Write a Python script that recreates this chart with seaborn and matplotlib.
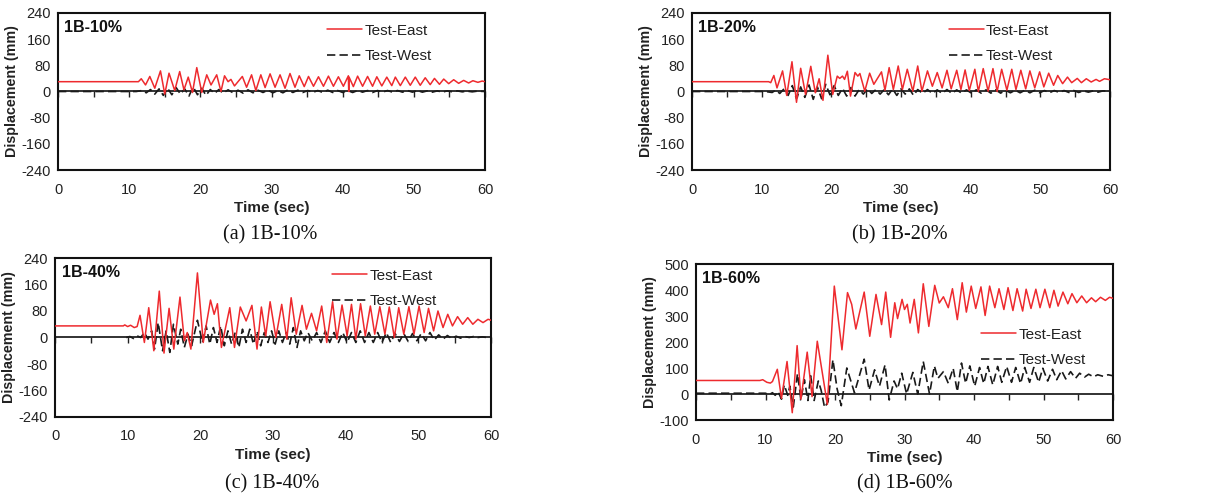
import numpy as np
import matplotlib
matplotlib.use("Agg")
import matplotlib.pyplot as plt
from matplotlib.ticker import MultipleLocator
import seaborn as sns

sns.set_style("white")
SANS = ["Liberation Sans Narrow", "Liberation Sans", "DejaVu Sans"]
plt.rcParams["font.family"] = SANS
plt.rcParams["axes.unicode_minus"] = False

# ---------------- 1B-10% ----------------
a_east_t = [0, 11.3, 11.7, 12.3, 12.9, 13.6, 14.4, 15.0, 15.6, 16.4,
            17.1, 17.7, 18.3, 18.9, 19.5, 20.2, 20.9, 21.5, 22.3, 22.9,
            23.4, 23.9, 24.3, 24.8, 25.9, 26.5, 27.2, 27.8, 28.5, 29.1,
            29.8, 30.5, 31.2, 31.9, 32.6, 33.3, 33.9, 34.6, 35.2, 35.9,
            36.6, 37.3, 38.0, 38.7, 39.4, 40.1, 40.8, 40.85, 40.9, 41.5,
            42.1, 42.8, 43.5, 44.2, 44.8, 45.5, 46.2, 46.9, 47.4, 48.1,
            48.8, 49.5, 50.2, 50.9, 51.6, 52.3, 52.9, 53.6, 54.2, 54.9,
            55.6, 56.3, 57.0, 57.7, 58.3, 59.0, 59.6, 60]
a_east = [30, 30, 39, 20, 46, 10, 63, -8, 56, 3,
          61, 5, 44, -3, 73, -3, 51, 20, 51, 0,
          48, 30, 37, 17, 46, 13, 51, 3, 51, 12,
          54, 13, 51, 10, 55, 13, 48, 15, 46, 16,
          45, 16, 47, 16, 45, 16, 48, 0, 44, 15,
          47, 16, 46, 16, 45, 17, 44, 18, 44, 18,
          44, 19, 44, 19, 42, 21, 40, 22, 38, 24,
          36, 25, 34, 26, 33, 28, 32, 30]
a_west_t = [0, 11.0, 11.8, 12.4, 13.0, 13.6, 14.2, 14.8, 15.4, 16.0,
            16.6, 17.2, 17.8, 18.4, 19.0, 19.6, 20.2, 20.8, 21.4, 22.0,
            22.6, 23.2, 23.9, 24.6, 25.3, 26.0, 26.7, 27.4, 28.1, 28.8,
            29.5, 30.2, 30.9, 31.6, 32.3, 33.0, 33.7, 34.4, 35.1, 35.8,
            36.5, 37.2, 37.9, 38.6, 39.3, 40.0, 40.7, 41.4, 42.1, 42.8,
            43.5, 44.2, 44.9, 45.6, 46.3, 47.0, 47.7, 48.4, 49.1, 49.8,
            50.5, 51.2, 51.9, 52.6, 53.3, 54.0, 54.7, 55.4, 56.1, 56.8,
            57.5, 58.2, 58.9, 60]
a_west = [0, 0, 3, -4, 6, -8, 8, -12, 10, -10,
          12, -8, 8, -14, 14, -10, 10, -12, 6, -6,
          6, -5, 5, -4, 4, -5, 5, -4, 4, -3,
          4, -4, 3, -4, 5, -3, 4, -3, 3, -3,
          3, -3, 4, -3, 3, -3, 3, -3, 3, -2,
          3, -3, 3, -2, 3, -2, 3, -2, 3, -2,
          3, -2, 2, -2, 2, -2, 2, -1, 2, -1,
          1, -1, 1, 0]

# ---------------- 1B-20% ----------------
b_east_t = [0, 11.0, 11.3, 11.75, 12.2, 13.0, 13.6, 14.35, 15.0, 15.6,
            16.3, 17.05, 17.7, 18.25, 18.8, 19.5, 20.2, 20.85, 21.2, 21.6,
            21.9, 22.3, 22.75, 23.4, 23.8, 24.1, 24.8, 25.5, 26.1, 27.2,
            27.7, 28.3, 28.9, 29.6, 30.2, 30.9, 31.7, 32.4, 33.0, 33.8,
            34.5, 35.2, 35.9, 36.6, 37.2, 38.0, 38.6, 39.2, 39.8, 40.6,
            41.1, 41.8, 42.5, 43.2, 43.8, 44.45, 45.2, 45.9, 46.5, 47.2,
            47.9, 48.5, 49.2, 49.9, 50.5, 51.2, 51.9, 52.5, 53.2, 53.9,
            54.5, 55.3, 55.9, 56.6, 57.3, 58.0, 58.5, 59.2, 60]
b_east = [30, 30, 27, 49, 11, 63, -12, 91, -33, 71,
          -9, 77, -4, 39, -27, 111, -9, 47, 40, 47,
          37, 62, -14, 58, 47, 55, 1, 56, 22, 60,
          4, 73, 6, 78, 6, 68, 1, 78, 1, 63,
          16, 58, 11, 65, 8, 65, 6, 66, 3, 68,
          0, 70, 1, 70, 0, 68, 4, 68, 6, 65,
          8, 63, 11, 60, 14, 56, 19, 49, 24, 44,
          27, 40, 27, 39, 29, 37, 31, 39, 36]
b_west_t = [0, 10.5, 11.5, 12.0, 12.6, 13.2, 13.8, 14.4, 15.0, 15.6,
            16.2, 16.8, 17.4, 18.0, 18.6, 19.2, 19.8, 20.4, 21.0, 21.6,
            22.2, 22.8, 23.4, 24.0, 24.6, 25.2, 25.8, 26.4, 27.0, 27.6,
            28.2, 28.8, 29.4, 30.0, 30.6, 31.2, 31.8, 32.4, 33.1, 33.8,
            34.5, 35.2, 35.9, 36.6, 37.3, 38.0, 38.7, 39.4, 40.1, 40.8,
            41.5, 42.2, 42.9, 43.6, 44.3, 45.0, 45.7, 46.4, 47.1, 47.8,
            48.5, 49.2, 49.9, 50.6, 51.3, 52.0, 52.7, 53.4, 54.1, 54.8,
            55.5, 56.2, 56.9, 57.6, 58.3, 59.0, 60]
b_west = [0, 0, -3, 4, -6, 8, -12, 18, -22, 14,
          -18, 20, -24, 14, -22, 22, -10, 18, -12, 10,
          -14, 12, -14, 6, -8, 8, -6, 6, -8, 6,
          -10, 8, -12, 8, -8, 8, -12, 6, -6, 6,
          -6, 5, -6, 6, -6, 5, -5, 5, -5, 5,
          -5, 5, -5, 5, -5, 4, -4, 4, -4, 4,
          -4, 4, -4, 3, -4, 3, -3, 3, -3, 3,
          -3, 2, -2, 2, -2, 2, 0]

# ---------------- 1B-40% ----------------
c_east_t = [0, 9.4, 9.6, 10.0, 10.4, 10.9, 11.3, 11.7, 12.3, 12.9,
            13.6, 14.35, 15.0, 15.7, 16.35, 17.2, 17.8, 18.2, 18.7, 19.6,
            20.4, 21.4, 21.9, 22.35, 22.9, 24.05, 24.7, 25.5, 26.3, 27.1,
            27.8, 28.4, 29.0, 29.6, 30.4, 31.2, 31.9, 32.5, 33.2, 34.0,
            34.6, 35.3, 36.0, 36.7, 37.4, 38.2, 38.8, 39.5, 40.2, 40.8,
            41.4, 42.05, 42.7, 43.4, 44.0, 44.7, 45.4, 46.0, 46.7, 47.3,
            48.0, 48.7, 49.4, 50.1, 50.8, 51.4, 52.1, 52.7, 53.4, 54.05,
            54.7, 55.4, 56.1, 56.8, 57.5, 58.2, 58.9, 59.6, 60]
c_east = [35, 35, 38, 33, 37, 30, 33, 67, -15, 90,
          -40, 140, -47, 88, -35, 122, -10, 15, -35, 195,
          -15, 113, 70, 102, -30, 90, -30, 92, 50, 97,
          -35, 92, 5, 108, 0, 100, -5, 120, 10, 97,
          25, 73, 20, 95, -15, 108, -5, 98, 5, 100,
          -5, 102, 5, 95, 10, 93, 10, 92, 0, 90,
          10, 93, 10, 95, 15, 88, 20, 80, 30, 70,
          35, 63, 40, 60, 40, 55, 45, 55, 52]
c_west_t = [9.8, 10.3, 10.8, 11.3, 11.8, 12.3, 12.8, 13.3, 13.7, 14.2,
            14.8, 15.3, 15.8, 16.3, 16.9, 17.3, 17.8, 18.3, 18.8, 19.6,
            20.3, 20.8, 21.3, 21.8, 22.3, 22.8, 23.3, 23.8, 24.3, 24.8,
            25.3, 25.8, 26.3, 26.8, 27.3, 27.8, 28.3, 28.8, 29.3, 29.8,
            30.3, 30.8, 31.3, 31.8, 32.3, 32.8, 33.3, 33.8, 34.3, 34.8,
            35.4, 36.0, 36.6, 37.2, 37.8, 38.4, 39.0, 39.6, 40.2, 40.8,
            41.4, 42.0, 42.6, 43.2, 43.8, 44.4, 45.0, 45.6, 46.2, 46.8,
            47.4, 48.0, 48.6, 49.2, 49.8, 50.4, 51.0, 51.6, 52.2, 52.8,
            53.4, 54.0, 54.6, 55.2, 55.8, 56.4, 57.0, 57.6, 58.2, 58.8,
            59.4, 60]
c_west = [0, 3, -3, 5, 0, 15, -5, 20, -35, 45,
          -40, 20, -45, 40, -20, 25, -30, 10, -25, 52,
          -15, 35, -20, 30, -15, 35, -25, 20, -20, 15,
          -30, 25, -15, 25, -20, 20, -25, 15, -15, 20,
          -20, 20, -15, 15, -20, 30, -30, 20, -10, 15,
          -10, 15, -15, 20, -15, 15, -15, 15, -15, 15,
          -15, 20, -15, 15, -15, 15, -15, 15, -15, 12,
          -12, 12, -12, 12, -10, 12, -10, 15, -8, 8,
          -5, 6, -3, 4, -2, 3, 0, 3, 0, 2,
          0, 2]

# ---------------- 1B-60% ----------------
d_east_t = [0, 9.2, 9.6, 10.2, 10.7, 11.0, 11.7, 12.3, 13.1, 13.85,
            14.55, 15.1, 16.0, 16.7, 17.45, 18.9, 19.9, 21.0, 21.8, 22.4,
            23.0, 24.2, 25.0, 25.9, 26.7, 27.3, 28.0, 28.6, 29.0, 29.65,
            30.0, 30.4, 30.8, 31.4, 32.0, 32.7, 33.5, 34.35, 35.0, 35.6,
            36.3, 36.9, 37.6, 38.3, 38.9, 39.6, 40.25, 41.0, 41.6, 42.25,
            43.0, 43.6, 44.3, 44.9, 45.6, 46.2, 47.0, 47.5, 48.2, 48.9,
            49.5, 50.2, 50.9, 51.5, 52.1, 52.8, 53.5, 54.1, 54.8, 55.5,
            56.2, 56.9, 57.5, 58.2, 58.9, 59.5, 60]
d_east = [52, 52, 55, 45, 42, 48, 95, -17, 125, -72,
          186, -20, 161, -10, 203, -40, 415, 170, 390, 345,
          250, 392, 222, 383, 267, 392, 218, 351, 290, 364,
          325, 345, 273, 364, 235, 424, 260, 418, 350, 374,
          332, 405, 286, 428, 315, 415, 329, 412, 302, 415,
          332, 405, 325, 409, 321, 405, 319, 403, 329, 403,
          332, 403, 332, 399, 338, 392, 347, 386, 351, 377,
          351, 370, 355, 372, 360, 372, 368]
d_west_t = [0, 10.0, 10.5, 11.0, 11.4, 11.8, 12.3, 12.7, 13.2, 13.5,
            14.0, 14.6, 15.1, 15.6, 16.1, 16.5, 17.0, 17.6, 18.0, 18.5,
            19.0, 19.7, 20.3, 20.9, 21.7, 22.8, 24.2, 24.9, 25.7, 26.4,
            27.2, 27.8, 28.5, 29.0, 29.6, 30.3, 31.2, 31.9, 32.7, 33.6,
            34.3, 34.8, 35.6, 36.3, 37.0, 37.6, 38.2, 38.8, 39.4, 40.1,
            40.8, 41.4, 42.0, 42.7, 43.4, 44.0, 44.7, 45.4, 46.0, 46.7,
            47.3, 48.0, 48.6, 49.3, 49.9, 50.6, 51.3, 51.9, 52.6, 53.2,
            53.9, 54.6, 55.2, 55.9, 56.5, 57.2, 57.8, 58.6, 59.3, 60]
d_west = [3, 3, -3, 5, -5, 10, -20, 35, -5, 30,
          -50, 78, -20, 55, -25, 70, -25, 50, 15, -52,
          -30, 132, 20, -45, 100, 5, 134, 15, 93, 30,
          112, -23, 50, 20, 80, 0, 83, 0, 125, 0,
          108, 60, 86, 41, 99, 9, 119, 41, 108, 30,
          102, 40, 106, 35, 106, 45, 106, 45, 102, 40,
          102, 45, 102, 45, 99, 50, 95, 55, 90, 58,
          86, 60, 80, 65, 76, 66, 74, 68, 74, 70]

panel_titles = ["1B-10%", "1B-20%", "1B-40%", "1B-60%"]
captions = ["(a) 1B-10%", "(b) 1B-20%", "(c) 1B-40%", "(d) 1B-60%"]
x_ticks = [0, 10, 20, 30, 40, 50, 60]

EAST_COLOR = "#ee2a2e"
WEST_COLOR = "#1a1a1a"
INK = "#222222"

fig = plt.figure(figsize=(12.06, 4.97), dpi=100)
W, H = 1206, 497


def px_axes(left, top, right, bottom):
    return fig.add_axes([left / W, 1 - bottom / H, (right - left) / W, (bottom - top) / H])


panels = [
    dict(box=(58, 13, 485, 170), east=(a_east_t, a_east), west=(a_west_t, a_west),
         ylim=(-240, 240), ystep=80, leg=(0.90, 1.0), cap=(270, 235)),
    dict(box=(692, 13, 1110, 170), east=(b_east_t, b_east), west=(b_west_t, b_west),
         ylim=(-240, 240), ystep=80, leg=(0.89, 1.0), cap=(900, 235)),
    dict(box=(55, 258, 491, 417), east=(c_east_t, c_east), west=(c_west_t, c_west),
         ylim=(-240, 240), ystep=80, leg=(0.90, 1.0), cap=(272, 484)),
    dict(box=(696, 264, 1113, 420), east=(d_east_t, d_east), west=(d_west_t, d_west),
         ylim=(-100, 500), ystep=100, leg=(0.96, 0.66), cap=(905, 484)),
]

for i, p in enumerate(panels):
    ax = px_axes(*p["box"])
    ax.set_facecolor("white")
    sns.lineplot(x=p["east"][0], y=p["east"][1], ax=ax, color=EAST_COLOR,
                 linewidth=1.1, estimator=None, label="Test-East", zorder=3)
    sns.lineplot(x=p["west"][0], y=p["west"][1], ax=ax, color=WEST_COLOR,
                 linewidth=1.2, linestyle=(0, (5, 2.5)), estimator=None,
                 label="Test-West", zorder=2)

    lo, hi = p["ylim"]
    ax.set_xlim(0, 60)
    ax.set_ylim(lo, hi)
    ax.set_xticks(x_ticks)
    ax.yaxis.set_major_locator(MultipleLocator(p["ystep"]))
    ax.yaxis.set_minor_locator(MultipleLocator(p["ystep"] / 2))
    ax.tick_params(axis="x", length=0, labelsize=10.5, pad=9, colors=INK)
    ax.tick_params(axis="y", which="major", direction="out", length=3,
                   labelsize=10.5, pad=2, colors=INK)
    ax.tick_params(axis="y", which="minor", direction="in", length=3, color=INK)
    for s in ax.spines.values():
        s.set_visible(True)
        s.set_color("#111111")
        s.set_linewidth(1.5)

    # time axis drawn through zero displacement, with 5-second ticks below it
    zero_frac = (0 - lo) / (hi - lo)
    sec = ax.secondary_xaxis(zero_frac)
    sec.set_alignment("bottom")
    sec.set_xticks(list(range(0, 61, 5)))
    sec.xaxis.set_ticklabels([])
    sec.tick_params(axis="x", direction="out", length=4, width=1.0,
                    labelbottom=False, labeltop=False, color=INK)
    sec.spines["bottom"].set_linewidth(1.3)
    sec.spines["bottom"].set_color(INK)

    ax.set_xlabel("Time (sec)", fontsize=11, fontweight="bold", labelpad=3, color=INK)
    ax.set_ylabel("Displacement (mm)", fontsize=10.3, fontweight="bold", labelpad=2,
                  color=INK, family=["Liberation Sans", "DejaVu Sans"])

    ax.text(0.015, 0.955, panel_titles[i], transform=ax.transAxes, ha="left", va="top",
            fontsize=11.5, fontweight="bold", color="#111111")

    leg = ax.legend(loc="upper right", bbox_to_anchor=p["leg"], frameon=False,
                    fontsize=11, handlelength=2.3, handletextpad=0.15,
                    labelspacing=0.75, borderaxespad=0.3)
    for t in leg.get_texts():
        t.set_color(INK)

    fig.text(p["cap"][0] / W, 1 - p["cap"][1] / H, captions[i], ha="center", va="center",
             fontsize=14.5, family=["Liberation Serif", "DejaVu Serif"], color="#111111")

fig.savefig("out.png", dpi=100, facecolor="white")
